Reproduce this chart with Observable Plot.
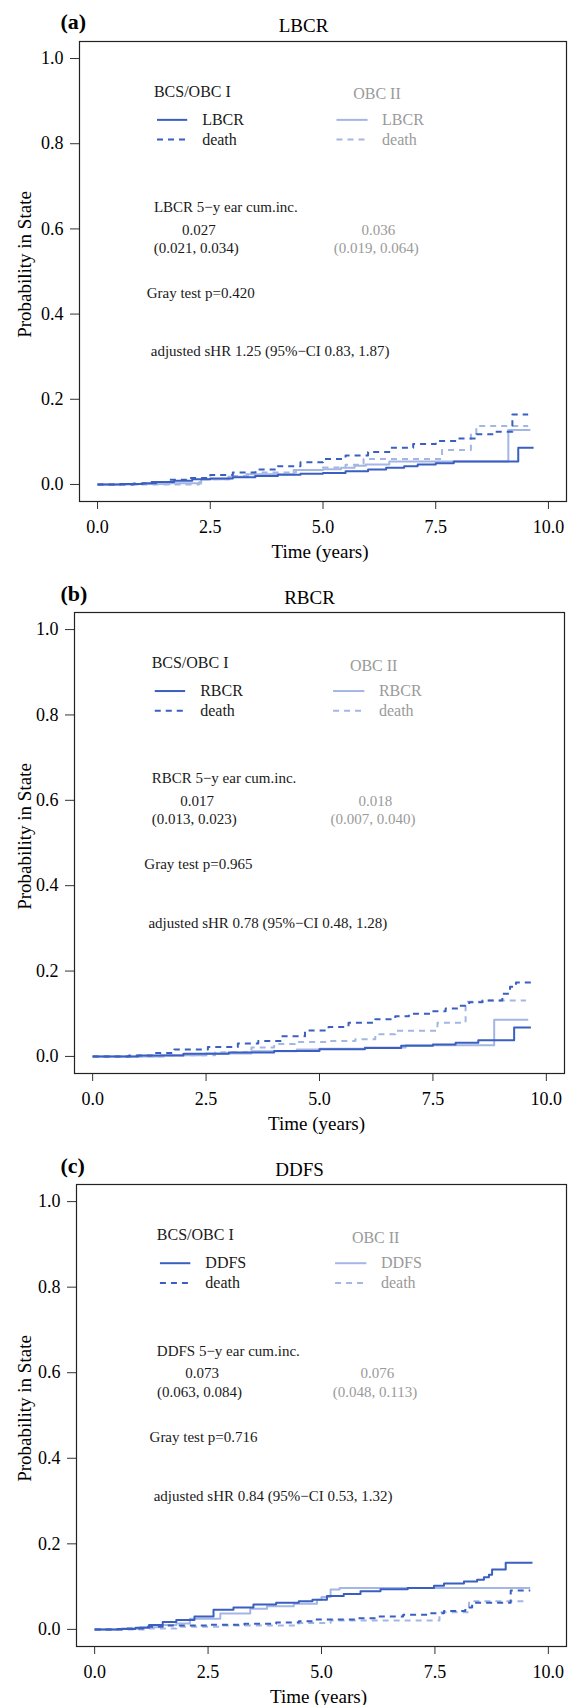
<!DOCTYPE html>
<html><head><meta charset="utf-8">
<script src="https://cdn.jsdelivr.net/npm/d3@7"></script>
<script src="https://cdn.jsdelivr.net/npm/@observablehq/plot@0.6"></script>
<style>
body{margin:0;background:#fff;}
#charts{width:569px;}
#charts svg{display:block;}
</style>
</head><body><div id="charts"></div>
<script>
// ---------- data ----------
const xTicks = [0, 2.5, 5, 7.5, 10];
const yTicks = [0, 0.2, 0.4, 0.6, 0.8, 1.0];
const groups = ["BCS/OBC I", "OBC II"];
const endpoints = ["LBCR", "RBCR", "DDFS"];
const panelLetters = ["(a)", "(b)", "(c)"];
const grayTests = ["Gray test p=0.420", "Gray test p=0.965", "Gray test p=0.716"];
const adjustedHR = [
  "adjusted sHR 1.25 (95%\u2212CI 0.83, 1.87)",
  "adjusted sHR 0.78 (95%\u2212CI 0.48, 1.28)",
  "adjusted sHR 0.84 (95%\u2212CI 0.53, 1.32)"
];
const cumIncI = ["0.027", "0.017", "0.073"];
const ciI = ["(0.021, 0.034)", "(0.013, 0.023)", "(0.063, 0.084)"];
const cumIncII = ["0.036", "0.018", "0.076"];
const ciII = ["(0.019, 0.064)", "(0.007, 0.040)", "(0.048, 0.113)"];

// step curves: [time (years), probability]
const lbcrI_event = [[0,0],[0.5,0.001],[1.0,0.003],[1.3,0.006],[1.7,0.009],[2.1,0.012],[2.5,0.014],[3.0,0.017],[3.5,0.020],[4.0,0.023],[4.5,0.025],[5.0,0.027],[5.5,0.031],[6.0,0.035],[6.4,0.039],[6.8,0.043],[7.1,0.047],[7.5,0.050],[7.9,0.054],[9.33,0.086],[9.67,0.086]];
const lbcrI_death = [[0,0],[0.8,0.002],[1.2,0.006],[1.6,0.011],[2.0,0.015],[2.5,0.022],[3.0,0.028],[3.5,0.035],[4.0,0.043],[4.5,0.052],[5.0,0.060],[5.5,0.068],[6.0,0.076],[6.5,0.086],[7.0,0.095],[7.5,0.102],[8.0,0.108],[8.4,0.118],[8.8,0.124],[9.2,0.164],[9.55,0.164]];
const lbcrII_event = [[0,0],[0.9,0.001],[1.6,0.003],[2.25,0.005],[2.3,0.012],[2.9,0.018],[3.3,0.024],[4.35,0.034],[5.0,0.036],[5.4,0.039],[5.7,0.044],[5.95,0.047],[6.47,0.054],[9.11,0.128],[9.6,0.128]];
const lbcrII_death = [[0,0],[2.25,0.002],[2.3,0.012],[3.0,0.020],[3.5,0.028],[4.4,0.034],[5.0,0.040],[5.5,0.046],[5.9,0.060],[7.64,0.081],[8.28,0.120],[8.4,0.137],[9.55,0.137]];

const rbcrI_event = [[0,0],[1.0,0.002],[2.0,0.006],[3.0,0.009],[4.0,0.013],[5.0,0.017],[6.0,0.020],[6.8,0.025],[7.5,0.028],[8.0,0.032],[8.5,0.038],[9.29,0.068],[9.66,0.068]];
const rbcrI_death = [[0,0],[0.8,0.002],[1.3,0.008],[1.8,0.016],[2.54,0.022],[3.2,0.030],[3.65,0.036],[4.16,0.047],[4.68,0.061],[5.2,0.069],[5.64,0.079],[6.23,0.087],[6.67,0.094],[6.97,0.100],[7.48,0.106],[7.78,0.112],[8.07,0.119],[8.3,0.127],[8.59,0.131],[9.03,0.147],[9.2,0.163],[9.33,0.173],[9.66,0.173]];
const rbcrII_event = [[0,0],[1.5,0.003],[2.5,0.007],[3.5,0.012],[4.5,0.016],[5.0,0.018],[6.0,0.021],[6.9,0.026],[8.85,0.086],[9.6,0.086]];
const rbcrII_death = [[0,0],[1.6,0.003],[2.7,0.010],[3.5,0.021],[4.0,0.029],[4.46,0.034],[5.2,0.036],[5.79,0.040],[6.23,0.052],[6.67,0.060],[7.6,0.079],[8.22,0.128],[8.6,0.131],[9.55,0.131]];

const ddfsI_event = [[0,0],[0.5,0.001],[0.9,0.004],[1.2,0.010],[1.5,0.017],[1.8,0.022],[2.2,0.030],[2.62,0.046],[3.06,0.051],[3.5,0.058],[4.0,0.062],[4.5,0.066],[4.8,0.069],[5.12,0.078],[5.49,0.083],[5.86,0.089],[6.3,0.094],[6.9,0.097],[7.48,0.102],[7.7,0.107],[8.14,0.112],[8.43,0.116],[8.58,0.122],[8.69,0.128],[8.76,0.140],[9.06,0.156],[9.65,0.156]];
const ddfsI_death = [[0,0],[0.7,0.002],[1.1,0.006],[1.5,0.009],[2.5,0.011],[3.3,0.013],[4.0,0.016],[4.5,0.019],[4.83,0.023],[5.8,0.026],[6.2,0.030],[6.8,0.034],[7.33,0.038],[7.7,0.043],[8.17,0.051],[8.32,0.062],[9.17,0.091],[9.6,0.091]];
const ddfsII_event = [[0,0],[0.6,0.002],[1.0,0.005],[1.4,0.010],[1.8,0.014],[2.1,0.025],[2.77,0.037],[3.43,0.048],[3.8,0.054],[4.39,0.060],[4.9,0.069],[5.0,0.076],[5.2,0.093],[5.4,0.097],[9.6,0.097]];
const ddfsII_death = [[0,0],[1.2,0.002],[1.8,0.006],[2.8,0.009],[4.5,0.015],[5.2,0.021],[7.6,0.040],[8.25,0.066],[9.55,0.066]];

const curvesByPanel = [
  [lbcrI_event, lbcrI_death, lbcrII_event, lbcrII_death],
  [rbcrI_event, rbcrI_death, rbcrII_event, rbcrII_death],
  [ddfsI_event, ddfsI_death, ddfsII_event, ddfsII_death]
];

// ---------- styling / layout ----------
const DARK = "#3a5fc0";
const LIGHT = "#a3b6e4";
const GRAYTXT = "#9a9a9a";
const TXT = "#1a1a1a";
const FONT = "'Liberation Serif','Times New Roman',Times,serif";
const DASH = "6,5";

const layouts = [
  {h: 572, left: 79, right: 566, top: 41, bottom: 501, titleX: 303, textShift: 0},
  {h: 572, left: 74, right: 564, top: 40, bottom: 501, titleX: 309, textShift: 0.05},
  {h: 561, left: 76, right: 566, top: 40, bottom: 502, titleX: 299, textShift: 0.12}
];

function makePanel(i) {
  const L = layouts[i];
  const [Ie, Id, IIe, IId] = curvesByPanel[i];
  const ep = endpoints[i];
  const s = L.textShift;
  const fcx = (L.left + L.right) / 2;
  const fcy = (L.top + L.bottom) / 2;
  const px = d => d[0], py = d => d[1];
  const lineOpts = (stroke, dash, w) => ({x: px, y: py, curve: "step-after", stroke, strokeWidth: w, strokeDasharray: dash, strokeLinecap: "butt"});
  const legSolid = [
    {x1: 1.33 + s, x2: 2.0 + s, y: 0.856, stroke: DARK},
    {x1: 5.31, x2: 6.0, y: 0.856, stroke: LIGHT}
  ];
  const legDash = [
    {x1: 1.33 + s, x2: 2.0 + s, y: 0.81, stroke: DARK},
    {x1: 5.31, x2: 6.0, y: 0.81, stroke: LIGHT}
  ];
  const ann = (txt, x, y, o = {}) => Plot.text([txt], {x: () => x, y: () => y, text: d => d, textAnchor: "start", lineAnchor: "middle", fontSize: 15, fill: TXT, ...o});

  return Plot.plot({
    width: 569,
    height: L.h,
    marginLeft: L.left,
    marginRight: 569 - L.right,
    marginTop: L.top,
    marginBottom: L.h - L.bottom,
    style: {fontFamily: FONT, fontSize: "18px", background: "#fff", color: "#000", overflow: "visible"},
    x: {domain: [-0.4, 10.4]},
    y: {domain: [-0.04, 1.04]},
    marks: [
      Plot.axisX({ticks: xTicks, tickFormat: d3.format(".1f"), tickSize: 8, tickPadding: 11, fontSize: 18, label: null, stroke: "#333"}),
      Plot.axisY({ticks: yTicks, tickFormat: d3.format(".1f"), tickSize: 9, tickPadding: 7, fontSize: 18, label: null, stroke: "#333"}),
      Plot.frame({stroke: "#222", strokeWidth: 1.2}),
      // curves
      Plot.line(IIe, lineOpts(LIGHT, null, 2)),
      Plot.line(IId, lineOpts(LIGHT, DASH, 2)),
      Plot.line(Ie, lineOpts(DARK, null, 2)),
      Plot.line(Id, lineOpts(DARK, DASH, 2)),
      // legend
      Plot.ruleY(legSolid, {y: "y", x1: "x1", x2: "x2", stroke: "stroke", strokeWidth: 2}),
      Plot.ruleY(legDash, {y: "y", x1: "x1", x2: "x2", stroke: "stroke", strokeWidth: 2, strokeDasharray: DASH}),
      ann(groups[0], 1.25 + s, 0.922, {fontSize: 16}),
      ann(groups[1], 5.67, 0.916, {fontSize: 16, fill: GRAYTXT}),
      ann(ep, 2.32 + s, 0.856, {fontSize: 16}),
      ann("death", 2.32 + s, 0.81, {fontSize: 16}),
      ann(ep, 6.31, 0.856, {fontSize: 16, fill: GRAYTXT}),
      ann("death", 6.31, 0.81, {fontSize: 16, fill: GRAYTXT}),
      // cumulative incidence
      ann(ep + " 5\u2212y ear cum.inc.", 1.25 + s, 0.651),
      ann(cumIncI[i], 2.25 + s, 0.598, {textAnchor: "middle"}),
      ann(ciI[i], 2.19 + s, 0.555, {textAnchor: "middle"}),
      ann(cumIncII[i], 6.23, 0.598, {textAnchor: "middle", fill: GRAYTXT}),
      ann(ciII[i], 6.18, 0.555, {textAnchor: "middle", fill: GRAYTXT}),
      ann(grayTests[i], 1.09 + s, 0.45),
      ann(adjustedHR[i], 1.18 + s, 0.312),
      // titles
      Plot.text([panelLetters[i]], {frameAnchor: "top-left", text: d => d, dx: 60 - L.left, dy: 21.5 - L.top, textAnchor: "start", lineAnchor: "middle", fontSize: 22, fontWeight: "bold", fill: "#000"}),
      Plot.text([ep], {frameAnchor: "top", text: d => d, dx: L.titleX - fcx, dy: 25 - L.top, textAnchor: "middle", lineAnchor: "middle", fontSize: 19, fill: "#000"}),
      Plot.text(["Time (years)"], {frameAnchor: "bottom", text: d => d, dx: -3, dy: 50, textAnchor: "middle", lineAnchor: "middle", fontSize: 19, fill: "#000"}),
      Plot.text(["Probability in State"], {frameAnchor: "left", text: d => d, dx: 24 - L.left, dy: 264 - fcy, rotate: -90, textAnchor: "middle", lineAnchor: "middle", fontSize: 19, fill: "#000"})
    ]
  });
}

const root = document.getElementById("charts");
for (let i = 0; i < 3; i++) root.appendChild(makePanel(i));
</script>
</body></html>
